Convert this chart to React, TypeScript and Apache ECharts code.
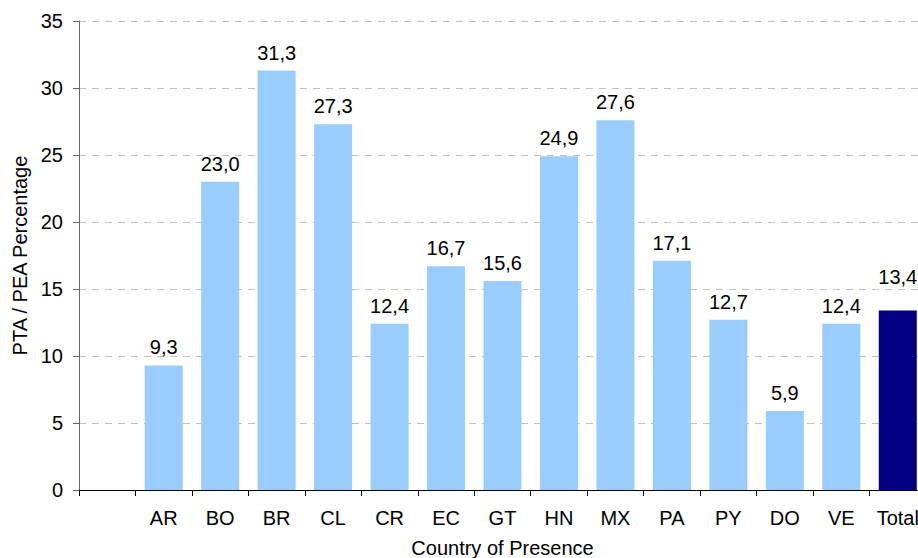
import React, { useEffect, useRef } from "react";
import * as echarts from "echarts";

const categories = ["", "AR", "BO", "BR", "CL", "CR", "EC", "GT", "HN", "MX", "PA", "PY", "DO", "VE", "Total"];
const values: (number | null)[] = [null, 9.3, 23.0, 31.3, 27.3, 12.4, 16.7, 15.6, 24.9, 27.6, 17.1, 12.7, 5.9, 12.4, 13.4];
const yTicks = [0, 5, 10, 15, 20, 25, 30, 35];

const FONT = "Liberation Sans, Arial, sans-serif";

export default function App() {
  const ref = useRef<HTMLDivElement>(null);
  useEffect(() => {
    const chart = echarts.init(ref.current!, null, { renderer: "svg" });
    const data = values.map((v, i) => {
      const isTotal = categories[i] === "Total";
      return {
        value: v,
        itemStyle: { color: isTotal ? "#000080" : "#99CCFF" },
        label: isTotal ? { distance: 23 } : undefined,
      };
    });
    chart.setOption({
      animation: false,
      backgroundColor: "#ffffff",
      grid: { left: 79, top: 21, width: 847, bottom: 68, containLabel: false, outerBoundsMode: "none" },
      xAxis: {
        type: "category",
        data: categories,
        boundaryGap: true,
        axisLine: { lineStyle: { color: "#000000", width: 1 } },
        axisTick: { show: true, alignWithLabel: false, length: 6, lineStyle: { color: "#000000" } },
        axisLabel: { color: "#000000", fontSize: 20, fontFamily: FONT, margin: 18, interval: 0 },
        name: "Country of Presence",
        nameLocation: "middle",
        nameGap: 48,
        nameTextStyle: { color: "#000000", fontSize: 20, fontFamily: FONT },
      },
      yAxis: {
        type: "value",
        min: yTicks[0],
        max: yTicks[yTicks.length - 1],
        interval: 5,
        axisLine: { show: true, lineStyle: { color: "#666666", width: 1 } },
        axisTick: { show: true, length: 6, lineStyle: { color: "#666666" } },
        axisLabel: { color: "#000000", fontSize: 20, fontFamily: FONT, margin: 16 },
        splitLine: { show: true, lineStyle: { color: "#c0c0c0", type: [7, 6], width: 1 } },
        name: "PTA / PEA Percentage",
        nameLocation: "middle",
        nameGap: 47,
        nameTextStyle: { color: "#000000", fontSize: 20, fontFamily: FONT },
      },
      series: [
        {
          type: "bar",
          data,
          barWidth: 38,
          label: {
            show: true,
            position: "top",
            distance: 8,
            color: "#000000",
            fontSize: 20,
            fontFamily: FONT,
            formatter: (p: any) => (p.value == null ? "" : Number(p.value).toFixed(1).replace(".", ",")),
          },
        },
      ],
    });
    return () => chart.dispose();
  }, []);
  return <div ref={ref} style={{ width: 918, height: 558, position: "absolute", left: 0, top: 0 }} />;
}
